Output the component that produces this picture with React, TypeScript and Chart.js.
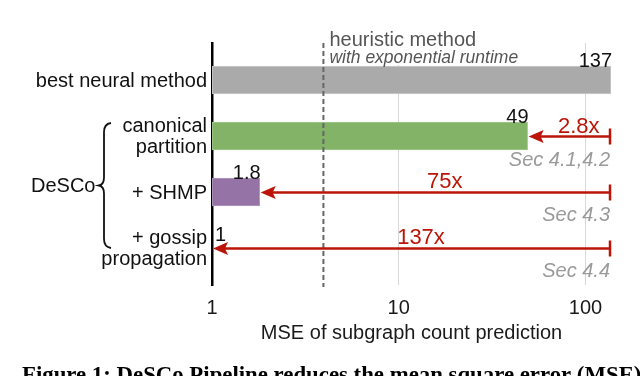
import React, { useEffect, useRef } from 'react';
import { Chart, registerables } from 'chart.js';

Chart.register(...registerables);

// ---------- data ----------
const categories: string[][] = [
  ['best neural method'],
  ['canonical', 'partition'],
  ['+ SHMP'],
  ['+ gossip', 'propagation'],
];
const mseValues = [137, 49, 1.8, 1];
const valueLabels = ['137', '49', '1.8', '1'];
const xTickValues = [1, 10, 100];
const speedupLabels = ['', '2.8x', '75x', '137x'];
const sectionLabels = ['', 'Sec 4.1,4.2', 'Sec 4.3', 'Sec 4.4'];
const heuristicValue = 3.95;
const heuristicLines = ['heuristic method', 'with exponential runtime'];
const groupLabel = 'DeSCo';
const axisTitle = 'MSE of subgraph count prediction';
const caption = 'Figure 1: DeSCo Pipeline reduces the mean square error (MSE)';

// ---------- styles ----------
const barFill = ['#aaaaaa', '#82b366', '#9673a6', 'rgba(0,0,0,0)'];
const barEdge = ['#cccccc', '#a3c98f', '#b09bbd', 'rgba(0,0,0,0)'];
const SANS = '"Liberation Sans", Arial, Helvetica, sans-serif';
const SERIF = '"Liberation Serif", "Times New Roman", serif';
const RED = '#bb1408';

const annotPlugin = {
  id: 'annot',
  beforeDatasetsDraw(chart: any) {
    const { ctx, chartArea, scales } = chart;
    const hx = scales.x.getPixelForValue(heuristicValue);
    ctx.save();
    ctx.fillStyle = '#ffffff';
    ctx.fillRect(hx + 3, chartArea.top, 200, 22);
    ctx.restore();
  },
  afterDatasetsDraw(chart: any) {
    const { ctx, chartArea } = chart;
    const x = chart.scales.x;
    const y = chart.scales.y;
    ctx.save();

    // heuristic dashed line
    const hx = x.getPixelForValue(heuristicValue);
    ctx.strokeStyle = '#666666';
    ctx.lineWidth = 2;
    ctx.setLineDash([5, 3]);
    ctx.beginPath();
    ctx.moveTo(hx, chartArea.top);
    ctx.lineTo(hx, chartArea.bottom + 2);
    ctx.stroke();
    ctx.setLineDash([]);

    ctx.fillStyle = '#555555';
    ctx.textAlign = 'left';
    ctx.textBaseline = 'alphabetic';
    ctx.font = `20px ${SANS}`;
    ctx.fillText(heuristicLines[0], hx + 6, 46);
    ctx.font = `italic 17.5px ${SANS}`;
    ctx.fillText(heuristicLines[1], hx + 6, 63);

    // value labels
    ctx.fillStyle = '#111111';
    ctx.font = `20px ${SANS}`;
    mseValues.forEach((v, i) => {
      const rowY = y.getPixelForValue(i);
      const end = x.getPixelForValue(v);
      if (v > 1) {
        ctx.textAlign = 'right';
        ctx.fillText(valueLabels[i], end + 1, rowY - 13);
      } else {
        ctx.textAlign = 'left';
        ctx.fillText(valueLabels[i], end + 3, rowY - 7);
      }
    });

    // category labels
    ctx.textAlign = 'right';
    categories.forEach((lines, i) => {
      const rowY = y.getPixelForValue(i);
      if (lines.length === 1) {
        ctx.fillText(lines[0], chartArea.left - 5, rowY + 7);
      } else {
        lines.forEach((ln, j) => ctx.fillText(ln, chartArea.left - 5, rowY - 4 + j * 21));
      }
    });

    // arrows
    const refX = x.getPixelForValue(mseValues[0]);
    for (let i = 1; i < mseValues.length; i++) {
      const rowY = y.getPixelForValue(i) + 0.5;
      const tipX = x.getPixelForValue(mseValues[i]) + 1;
      ctx.strokeStyle = RED;
      ctx.fillStyle = RED;
      ctx.lineWidth = 2.5;
      ctx.beginPath();
      ctx.moveTo(refX - 1, rowY);
      ctx.lineTo(tipX + 10, rowY);
      ctx.stroke();
      ctx.beginPath();
      ctx.moveTo(refX - 1, rowY - 8);
      ctx.lineTo(refX - 1, rowY + 8);
      ctx.stroke();
      ctx.beginPath();
      ctx.moveTo(tipX, rowY);
      ctx.lineTo(tipX + 15, rowY - 6.5);
      ctx.lineTo(tipX + 12, rowY);
      ctx.lineTo(tipX + 15, rowY + 6.5);
      ctx.closePath();
      ctx.fill();

      ctx.font = `22px ${SANS}`;
      ctx.textAlign = 'center';
      ctx.fillText(speedupLabels[i], (tipX + refX) / 2 + 9, rowY - 4);

      ctx.fillStyle = '#9a9a9a';
      ctx.font = `italic 20px ${SANS}`;
      ctx.textAlign = 'right';
      ctx.fillText(sectionLabels[i], refX - 1, rowY + 29);
    }

    // DeSCo group brace
    const top = y.getPixelForValue(1) - 13;
    const bot = y.getPixelForValue(3);
    const mid = (top + bot) / 2;
    ctx.fillStyle = '#111111';
    ctx.font = `20px ${SANS}`;
    ctx.textAlign = 'left';
    ctx.fillText(groupLabel, 31, mid + 7);
    ctx.strokeStyle = '#111111';
    ctx.lineWidth = 1.8;
    ctx.beginPath();
    ctx.moveTo(111, top);
    ctx.quadraticCurveTo(104, top + 1, 104, top + 9);
    ctx.lineTo(104, mid - 8);
    ctx.quadraticCurveTo(104, mid - 1, 99, mid);
    ctx.quadraticCurveTo(104, mid + 1, 104, mid + 8);
    ctx.lineTo(104, bot - 9);
    ctx.quadraticCurveTo(104, bot - 1, 111, bot);
    ctx.stroke();

    // caption (cut by the bottom edge)
    ctx.fillStyle = '#000000';
    ctx.font = `bold 22.8px ${SERIF}`;
    ctx.textAlign = 'left';
    ctx.fillText(caption, 22, 382);

    ctx.restore();
  },
};

export default function App() {
  const ref = useRef<HTMLCanvasElement | null>(null);

  useEffect(() => {
    if (!ref.current) return;
    const chart = new Chart(ref.current, {
      type: 'bar',
      data: {
        datasets: [
          {
            data: mseValues.map((v, i) => ({ x: v, y: i })) as any,
            backgroundColor: barFill,
            borderColor: barEdge,
            borderWidth: 1,
            borderSkipped: false,
            barThickness: 28,
          },
        ],
      },
      options: {
        indexAxis: 'y',
        responsive: false,
        animation: false,
        events: [],
        layout: { padding: { top: 43, right: 29, bottom: 0, left: 0 } },
        plugins: { legend: { display: false }, tooltip: { enabled: false } },
        scales: {
          x: {
            type: 'logarithmic',
            min: 1,
            max: 137,
            afterBuildTicks: (s: any) => {
              s.ticks = xTickValues.map((v) => ({ value: v }));
            },
            afterFit: (s: any) => {
              s.height = 91;
            },
            ticks: {
              autoSkip: false,
              maxRotation: 0,
              padding: 11,
              color: '#1a1a1a',
              font: { family: SANS, size: 20 },
              callback: (v: any) => String(v),
            },
            grid: { color: '#d9d9d9', lineWidth: 1, drawTicks: false },
            border: { display: false },
            title: {
              display: true,
              text: axisTitle,
              color: '#1a1a1a',
              font: { family: SANS, size: 20 },
              padding: { top: 0, bottom: 31 },
            },
          },
          y: {
            type: 'linear',
            min: -0.661,
            max: 3.661,
            reverse: true,
            afterBuildTicks: (s: any) => {
              s.ticks = [];
            },
            afterFit: (s: any) => {
              s.width = 212;
            },
            ticks: { display: false },
            grid: { display: false },
            border: { display: true, color: '#000000', width: 2.5 },
          },
        },
      } as any,
      plugins: [annotPlugin],
    });
    return () => chart.destroy();
  }, []);

  return (
    <div style={{ position: 'fixed', left: 0, top: 0, width: 640, height: 376, background: '#fff' }}>
      <canvas ref={ref} width={640} height={376} style={{ display: 'block' }} />
    </div>
  );
}
